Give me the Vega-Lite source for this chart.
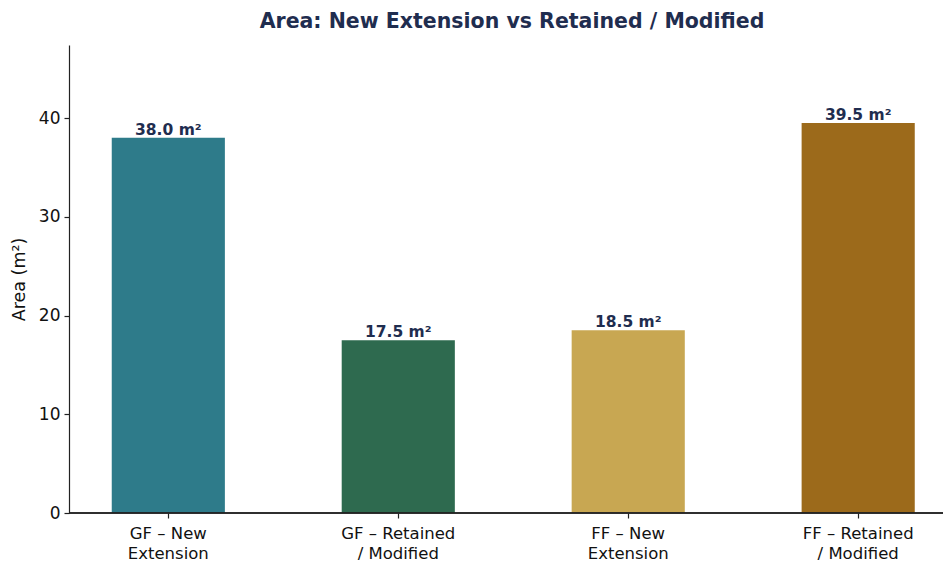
{
  "$schema": "https://vega.github.io/schema/vega-lite/v6.json",
  "width": 874,
  "height": 468,
  "autosize": {"type": "none"},
  "padding": {"left": 69, "top": 45, "right": 1, "bottom": 53},
  "background": "white",
  "title": {
    "text": "Area: New Extension vs Retained / Modified",
    "font": "DejaVu Sans",
    "fontSize": 20.5,
    "fontWeight": "bold",
    "color": "#1f2d4f",
    "anchor": "middle",
    "dx": 6,
    "offset": 13
  },
  "config": {
    "view": {"stroke": null},
    "font": "DejaVu Sans"
  },
  "data": {
    "values": [
      {"space": "GF – New\nExtension", "area": 38.0, "colour": "#2e7b8a"},
      {"space": "GF – Retained\n/ Modified", "area": 17.5, "colour": "#2e6a4f"},
      {"space": "FF – New\nExtension", "area": 18.5, "colour": "#c8a752"},
      {"space": "FF – Retained\n/ Modified", "area": 39.5, "colour": "#9c6a1b"}
    ]
  },
  "transform": [
    {"calculate": "format(datum.area, '.1f') + ' m²'", "as": "label"}
  ],
  "encoding": {
    "x": {
      "field": "space",
      "type": "nominal",
      "sort": null,
      "scale": {"range": [2.5, 886], "paddingInner": 0.508, "paddingOuter": 0.175},
      "axis": {
        "title": null,
        "domain": false,
        "labelAngle": 0,
        "labelExpr": "split(datum.label, '\\n')",
        "labelFont": "DejaVu Sans",
        "labelFontSize": 16.5,
        "labelColor": "#111111",
        "labelLineHeight": 20,
        "labelPadding": 7,
        "tickSize": 5,
        "tickColor": "#222222",
        "tickWidth": 1.2
      }
    },
    "y": {
      "field": "area",
      "type": "quantitative",
      "scale": {"domain": [0, 47.4], "nice": false},
      "axis": {
        "title": "Area (m²)",
        "titleFont": "DejaVu Sans",
        "titleFontSize": 17.5,
        "titleFontWeight": "normal",
        "titleColor": "#111111",
        "titlePadding": 10,
        "values": [0, 10, 20, 30, 40],
        "grid": false,
        "labelFont": "DejaVu Sans",
        "labelFontSize": 17,
        "labelColor": "#111111",
        "labelPadding": 4,
        "tickSize": 5,
        "tickColor": "#222222",
        "tickWidth": 1.2,
        "domainColor": "#222222",
        "domainWidth": 1.2
      }
    }
  },
  "layer": [
    {
      "mark": {"type": "bar"},
      "encoding": {
        "color": {"field": "colour", "type": "nominal", "scale": null, "legend": null}
      }
    },
    {
      "mark": {
        "type": "text",
        "baseline": "alphabetic",
        "dy": -3,
        "font": "DejaVu Sans",
        "fontSize": 15.5,
        "fontWeight": "bold",
        "color": "#1f2d4f"
      },
      "encoding": {
        "text": {"field": "label", "type": "nominal"}
      }
    },
    {
      "mark": {"type": "rule", "color": "#222222", "strokeWidth": 1.2},
      "encoding": {
        "y": {"datum": 0},
        "x": null
      }
    }
  ]
}
